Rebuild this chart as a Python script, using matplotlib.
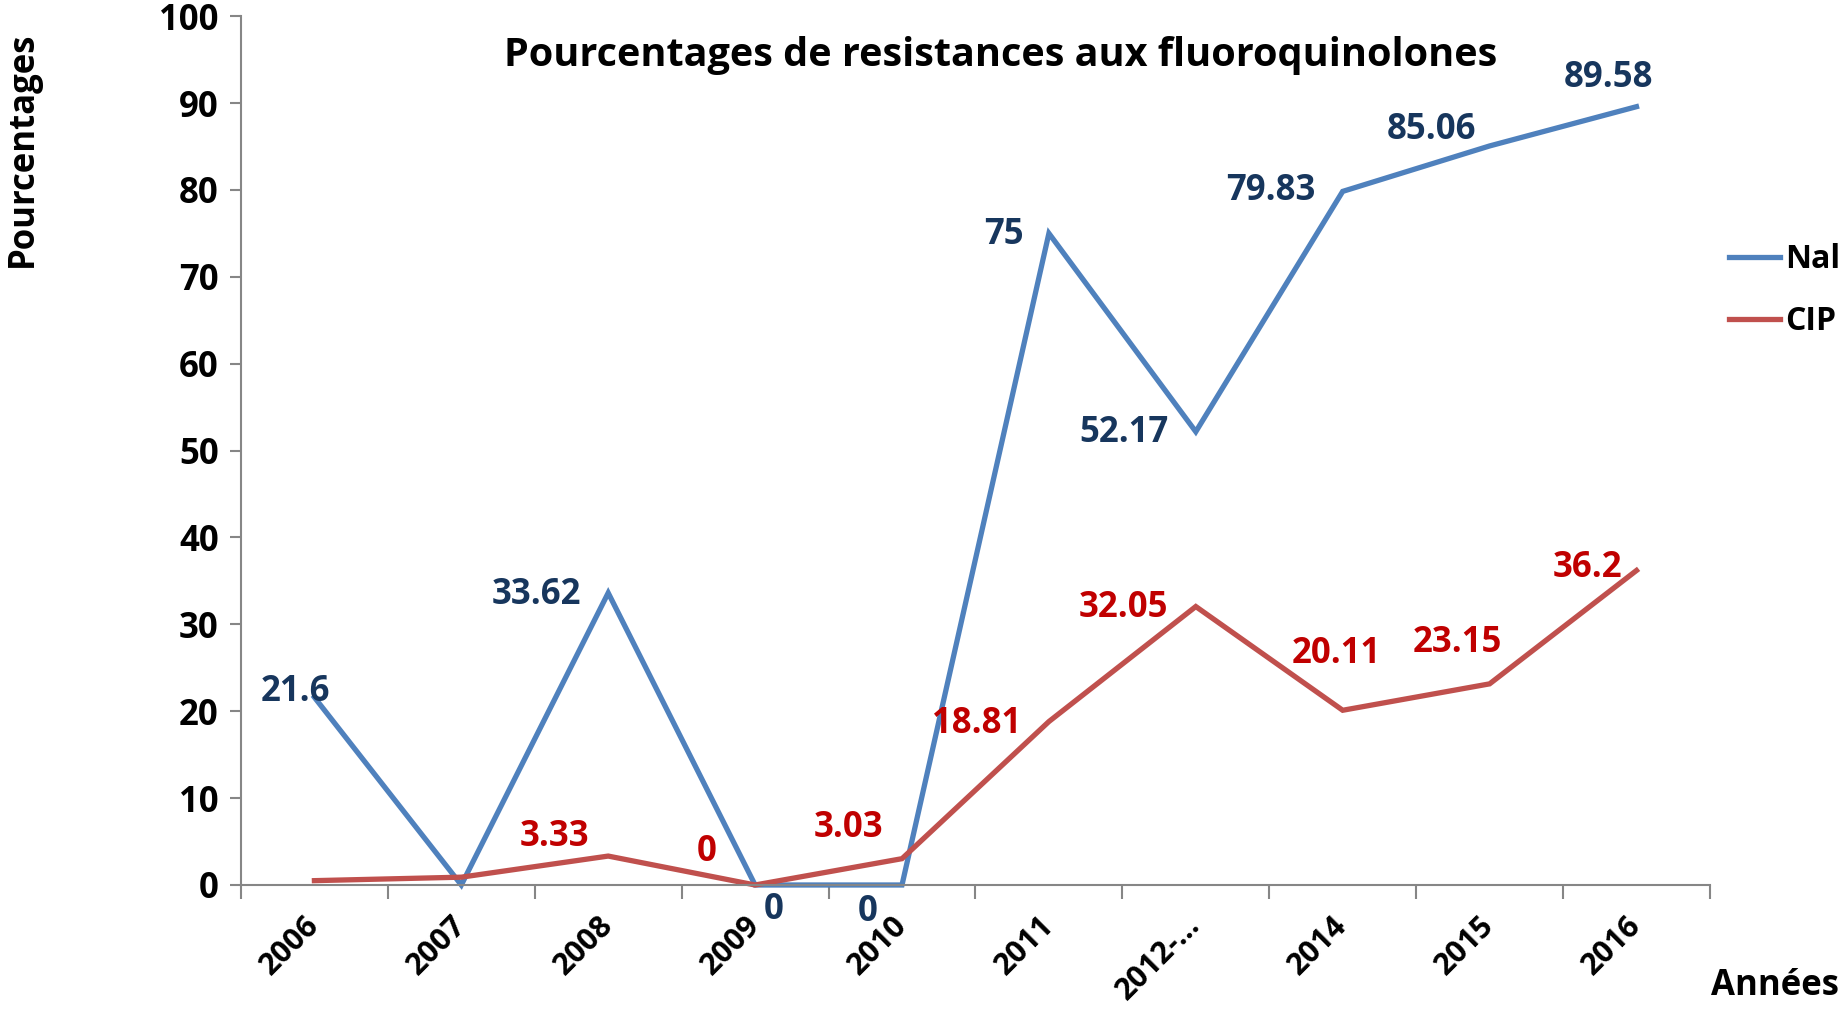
import numpy as np
import matplotlib.pyplot as plt

# data
years = ['2006', '2007', '2008', '2009', '2010', '2011', '2012-…', '2014', '2015', '2016']
nal = [21.6, 0, 33.62, 0, 0, 75, 52.17, 79.83, 85.06, 89.58]
cip = [0.5, 0.9, 3.33, 0, 3.03, 18.81, 32.05, 20.11, 23.15, 36.2]

# which points carry a value label (index -> text)
nal_labels = {0: '21.6', 2: '33.62', 3: '0', 4: '0', 5: '75', 6: '52.17',
              7: '79.83', 8: '85.06', 9: '89.58'}
cip_labels = {2: '3.33', 3: '0', 4: '3.03', 5: '18.81', 6: '32.05',
              7: '20.11', 8: '23.15', 9: '36.2'}

# label offsets (pixels, x right / y up)
nal_off = {0: (-19, 5), 2: (-72, -2), 3: (19, -25), 4: (-34, -27), 5: (-45, -2),
           6: (-72, -1), 7: (-72, 0), 8: (-58, 16), 9: (-28, 29)}
cip_off = {2: (-54, 19), 3: (-48, 33), 4: (-54, 31), 5: (-72, -2), 6: (-72, -1),
           7: (-6, 56), 8: (-32, 41), 9: (-49, 2)}

plt.rcParams['font.family'] = ['Open Sans', 'DejaVu Sans']
plt.rcParams['font.weight'] = 'bold'

blue = '#4F81BD'
red = '#C0504D'
navy = '#17365D'
dred = '#C00000'
grey = '#868686'
fs = 25

fig = plt.figure(figsize=(18.45, 10.09), dpi=100)
ax = fig.add_axes([0.1306, 0.1229, 0.7962, 0.8611])

x = np.arange(len(years))
ax.plot(x, nal, color=blue, lw=3.8, label='Nal', clip_on=False, solid_joinstyle='miter')
ax.plot(x, cip, color=red, lw=3.8, label='CIP', clip_on=False, solid_joinstyle='miter')

for i, t in nal_labels.items():
    ax.annotate(t, (x[i], nal[i]), xytext=nal_off[i], textcoords='offset pixels',
                ha='center', va='center', color=navy, fontsize=fs, fontweight='bold')
for i, t in cip_labels.items():
    ax.annotate(t, (x[i], cip[i]), xytext=cip_off[i], textcoords='offset pixels',
                ha='center', va='center', color=dred, fontsize=fs, fontweight='bold')

ax.set_xlim(-0.5, len(years) - 0.5)
ax.set_ylim(0, 100)
ax.set_yticks(np.arange(0, 101, 10))
ax.set_yticklabels([str(v) for v in range(0, 101, 10)], fontsize=fs, fontweight='bold')

# ticks at category boundaries, labels at centres
ax.set_xticks(np.arange(-0.5, len(years)), minor=False)
ax.set_xticklabels([])
ax.set_xticks(x, minor=True)
ax.set_xticklabels(years, minor=True, rotation=45, ha='right', va='center',
                   rotation_mode='anchor', fontsize=22, fontweight='bold')
ax.tick_params(axis='x', which='minor', length=0, pad=26)
ax.tick_params(axis='x', which='major', length=10, width=1.5, color=grey, direction='out')
ax.tick_params(axis='y', length=8, width=1.5, color=grey, direction='out', pad=8)

for s in ['top', 'right']:
    ax.spines[s].set_visible(False)
for s in ['left', 'bottom']:
    ax.spines[s].set_color(grey)
    ax.spines[s].set_linewidth(1.5)

ax.text(0.517, 0.955, 'Pourcentages de resistances aux fluoroquinolones',
        transform=ax.transAxes, ha='center', va='center', fontsize=28.5, fontweight='bold')

fig.text(0.0125, 0.852, 'Pourcentages', rotation=90, ha='center', va='center',
         fontsize=fs, fontweight='bold')
fig.text(0.962, 0.023, 'Années', ha='center', va='center', fontsize=fs, fontweight='bold')

fig.legend(loc='upper left', bbox_to_anchor=(0.937, 0.759), frameon=False,
           handlelength=1.6, handletextpad=0.15, labelspacing=0.9, borderpad=0,
           borderaxespad=0, prop={'size': 23, 'weight': 'bold'})

fig.savefig('out.png', dpi=100)
